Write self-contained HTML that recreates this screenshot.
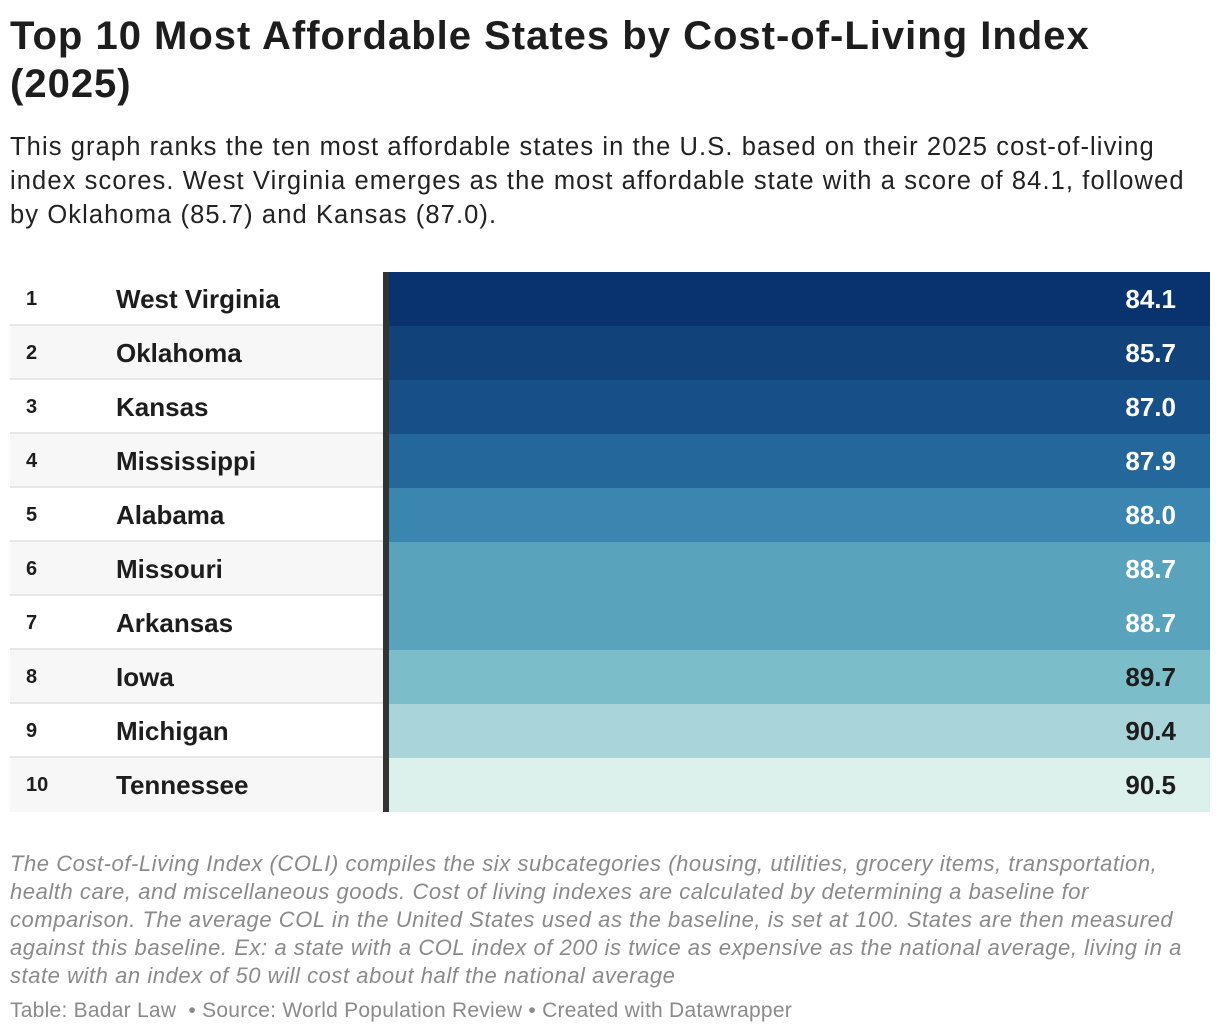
<!DOCTYPE html>
<html><head><meta charset="utf-8"><style>
body{margin:0;width:1220px;height:1036px;background:#fff;font-family:"Liberation Sans",sans-serif;color:#1d1d1d;position:relative;overflow:hidden}
h1{position:absolute;left:10px;top:12px;margin:0;font-size:40px;line-height:48px;font-weight:bold;width:1210px;white-space:nowrap;letter-spacing:1.0px}
.sub{position:absolute;left:10px;top:130px;font-size:25.5px;line-height:34px;width:1210px;color:#222;white-space:nowrap;letter-spacing:1.1px}
#tbl{position:absolute;left:10px;top:272px;width:1200px}
.row{position:absolute;left:0;width:1200px;height:54px}
.rank{position:absolute;left:16px;top:0;line-height:54px;font-size:20px;font-weight:bold}
.name{position:absolute;left:106px;top:0;line-height:54px;font-size:26px;font-weight:bold}
.sep{position:absolute;left:373px;top:0;width:6px;height:54px;background:#333}
.cell{position:absolute;left:379px;top:0;width:821px;height:54px}
.val{position:absolute;right:34px;top:0;line-height:54px;font-size:26px;font-weight:bold}
.notes{position:absolute;left:10px;top:850px;font-size:22px;line-height:28px;font-style:italic;color:#8a8a8a;width:1210px;white-space:nowrap;letter-spacing:0.55px}
.foot{position:absolute;left:10px;top:999px;font-size:21px;color:#8a8a8a;letter-spacing:0.25px;white-space:nowrap}
</style></head><body>
<h1>Top 10 Most Affordable States by Cost-of-Living Index<br>(2025)</h1>
<div class="sub">This graph ranks the ten most affordable states in the U.S. based on their 2025 cost-of-living<br>index scores. West Virginia emerges as the most affordable state with a score of 84.1, followed<br>by Oklahoma (85.7) and Kansas (87.0).</div>
<div id="tbl"></div>
<div class="notes">The Cost-of-Living Index (COLI) compiles the six subcategories (housing, utilities, grocery items, transportation,<br>health care, and miscellaneous goods. Cost of living indexes are calculated by determining a baseline for<br>comparison. The average COL in the United States used as the baseline, is set at 100. States are then measured<br>against this baseline. Ex: a state with a COL index of 200 is twice as expensive as the national average, living in a<br>state with an index of 50 will cost about half the national average</div>
<div class="foot">Table: Badar Law &nbsp;• Source: World Population Review • Created with Datawrapper</div>
<script>
const states=["West Virginia","Oklahoma","Kansas","Mississippi","Alabama","Missouri","Arkansas","Iowa","Michigan","Tennessee"];
const values=[84.1,85.7,87.0,87.9,88.0,88.7,88.7,89.7,90.4,90.5];
const scaleStops=[[84.1,"#08336e"],[85.7,"#11427a"],[87.0,"#174f88"],[87.9,"#23679b"],[88.0,"#3a86b0"],[88.7,"#59a3bc"],[89.7,"#7bbdc8"],[90.4,"#a9d5da"],[90.5,"#dcf0ec"]];
function colorFor(v){let c=scaleStops[0][1];for(const s of scaleStops){if(v>=s[0]-1e-9)c=s[1];}return c;}
const ROWH=54;
const tbl=document.getElementById('tbl');
states.forEach((s,i)=>{
 const r=document.createElement('div');r.className='row';r.style.top=(i*ROWH)+'px';
 r.style.background=i%2?'#f7f7f7':'#fff';
 if(i<states.length-1)r.style.borderBottom='2px solid #e6e6e6',r.style.height=(ROWH-2)+'px';
 
 
 const v=values[i];
 r.innerHTML=`<div class="rank">${i+1}</div><div class="name">${s}</div><div class="sep"></div>`;
 const c=document.createElement('div');c.className='cell';c.style.background=colorFor(v);c.style.height=ROWH+'px';
 
 
 const t=document.createElement('div');t.className='val';t.textContent=v.toFixed(1);
 t.style.color=v<89.5?'#fff':'#1d1d1d';
 
 
 c.appendChild(t);r.appendChild(c);tbl.appendChild(r);
});
</script>
</body></html>
